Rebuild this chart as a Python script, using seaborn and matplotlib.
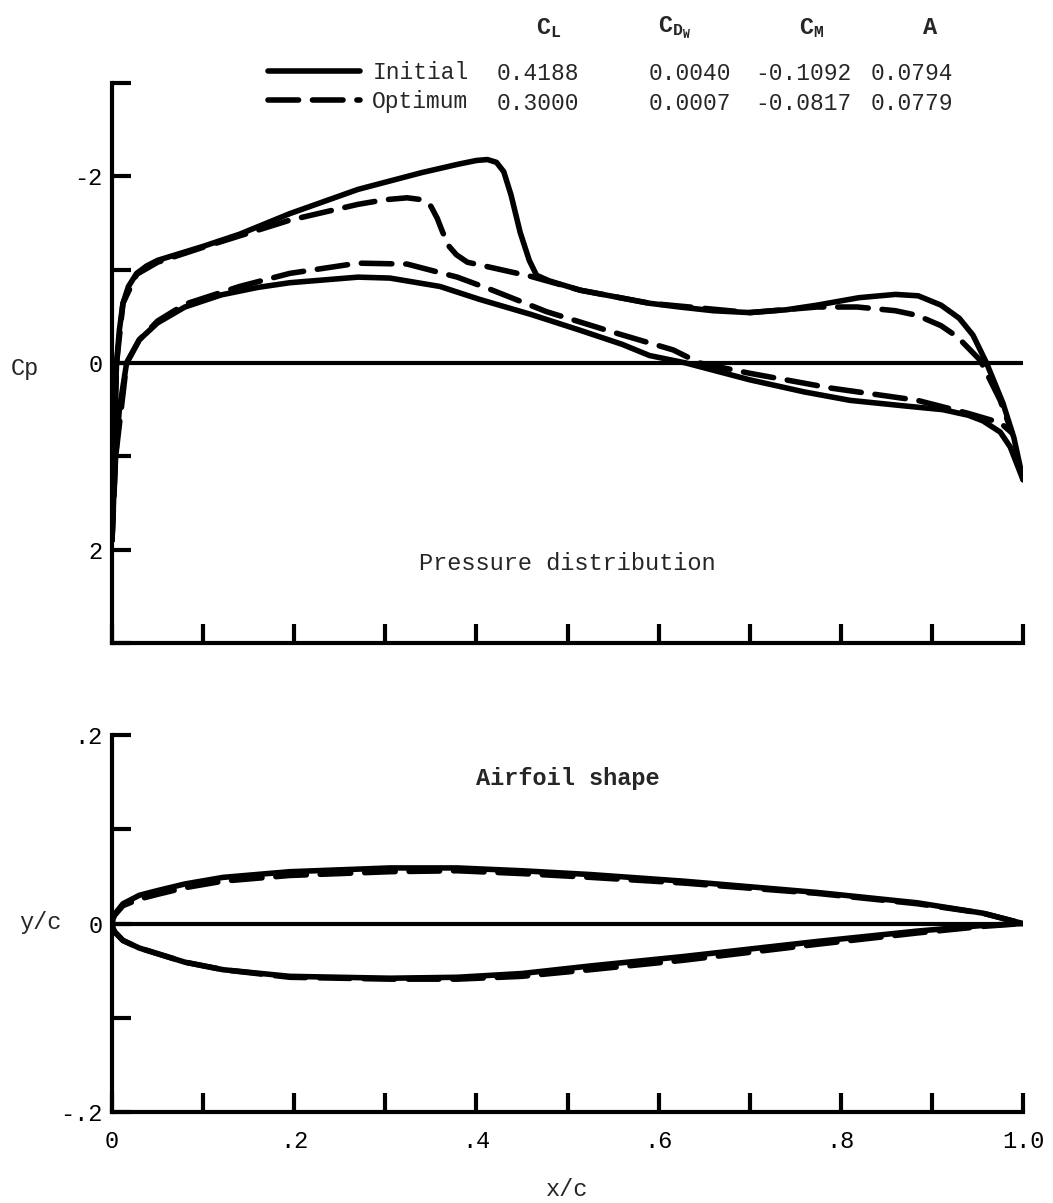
import numpy as np
import pandas as pd
import matplotlib
matplotlib.use("Agg")
import matplotlib.pyplot as plt
import seaborn as sns

# pressure distribution (x/c, Cp)
init_up_x = [0.0, 0.001, 0.003, 0.005, 0.008, 0.012, 0.018, 0.027, 0.038, 0.05, 0.07, 0.10, 0.14,
             0.195, 0.27, 0.34, 0.38, 0.40, 0.412, 0.422, 0.43, 0.438, 0.448, 0.458, 0.466, 0.48,
             0.514, 0.59, 0.623, 0.66, 0.70, 0.74, 0.774, 0.82, 0.86, 0.885, 0.91, 0.93, 0.945,
             0.96, 0.978, 0.99, 1.0]
init_up_cp = [1.9, 1.3, 0.5, 0.0, -0.35, -0.64, -0.82, -0.96, -1.04, -1.10, -1.16, -1.25, -1.38,
              -1.60, -1.86, -2.04, -2.13, -2.17, -2.18, -2.15, -2.05, -1.80, -1.40, -1.10, -0.94, -0.88,
              -0.78, -0.64, -0.60, -0.56, -0.54, -0.57, -0.62, -0.70, -0.735, -0.72, -0.62, -0.48, -0.30,
              0.0, 0.43, 0.80, 1.25]
init_lo_x = [0.0, 0.002, 0.004, 0.008, 0.016, 0.03, 0.05, 0.08, 0.12, 0.16, 0.195, 0.27, 0.305,
             0.36, 0.404, 0.46, 0.514, 0.56, 0.59, 0.63, 0.70, 0.76, 0.81, 0.87, 0.912, 0.94,
             0.956, 0.975, 0.986, 1.0]
init_lo_cp = [1.9, 1.4, 1.0, 0.5, 0.0, -0.25, -0.43, -0.60, -0.73, -0.81, -0.86, -0.92, -0.91,
              -0.82, -0.68, -0.52, -0.35, -0.20, -0.08, 0.0, 0.18, 0.31, 0.40, 0.46, 0.50, 0.56,
              0.62, 0.74, 0.90, 1.25]
opt_up_x = [0.0, 0.005, 0.012, 0.027, 0.05, 0.10, 0.195, 0.27, 0.30, 0.324, 0.34, 0.35, 0.357,
            0.363, 0.37, 0.378, 0.39, 0.404, 0.459, 0.514, 0.59, 0.70, 0.774, 0.818, 0.86, 0.884,
            0.91, 0.928, 0.953, 0.975, 0.988]
opt_up_cp = [1.9, 0.0, -0.64, -0.95, -1.08, -1.24, -1.53, -1.70, -1.75, -1.77, -1.75, -1.68, -1.55,
             -1.40, -1.25, -1.16, -1.08, -1.05, -0.93, -0.78, -0.64, -0.54, -0.60, -0.60, -0.56, -0.51,
             -0.40, -0.28, -0.03, 0.40, 0.75]
opt_lo_x = [0.0, 0.004, 0.016, 0.03, 0.05, 0.08, 0.14, 0.195, 0.27, 0.324, 0.379, 0.415, 0.477,
            0.55, 0.616, 0.645, 0.70, 0.79, 0.884, 0.94, 0.975, 0.988]
opt_lo_cp = [1.9, 1.0, 0.0, -0.25, -0.45, -0.63, -0.82, -0.96, -1.07, -1.06, -0.92, -0.79, -0.55,
             -0.33, -0.14, 0.0, 0.11, 0.27, 0.40, 0.54, 0.64, 0.75]

# airfoil shape (x/c, y/c)
shp_x = [0.0, 0.001, 0.003, 0.012, 0.03, 0.05, 0.08, 0.122, 0.195, 0.305, 0.379, 0.45, 0.525,
         0.627, 0.774, 0.884, 0.956, 1.0]
init_up_y = [0.0, 0.006, 0.010, 0.021, 0.030, 0.035, 0.042, 0.049, 0.055, 0.059, 0.059, 0.056,
             0.052, 0.045, 0.033, 0.022, 0.011, 0.0]
init_lo_y = [0.0, -0.005, -0.009, -0.018, -0.026, -0.032, -0.041, -0.049, -0.056, -0.058, -0.057,
             -0.053, -0.045, -0.035, -0.019, -0.008, -0.002, 0.0]
opt_up_y = [0.0, 0.005, 0.009, 0.019, 0.026, 0.031, 0.038, 0.045, 0.051, 0.055, 0.056, 0.053,
            0.049, 0.043, 0.032, 0.021, 0.011, 0.0]
opt_lo_y = [0.0, -0.005, -0.009, -0.018, -0.026, -0.032, -0.041, -0.049, -0.057, -0.059, -0.059,
            -0.056, -0.049, -0.039, -0.022, -0.010, -0.003, 0.0]

cases = ["Initial", "Optimum"]
coef_names = [r"$\mathrm{C_L}$", r"$\mathrm{C_{D_W}}$", r"$\mathrm{C_M}$", "A"]
coef_vals = [["0.4188", "0.0040", "-0.1092", "0.0794"],
             ["0.3000", "0.0007", "-0.0817", "0.0779"]]

sns.set_style("white")
plt.rcParams["font.family"] = ["Liberation Mono", "DejaVu Sans Mono"]
plt.rcParams["mathtext.fontset"] = "custom"
plt.rcParams["mathtext.rm"] = "Liberation Mono:bold"
plt.rcParams["mathtext.it"] = "Liberation Mono:bold"

LW = 4
DASH = (0, (5.5, 2.5))
FS_LEG = 16.5

fig = plt.figure(figsize=(10.53, 12.03), dpi=100)
ax1 = fig.add_axes([0.1064, 0.4655, 0.8651, 0.4655])
ax2 = fig.add_axes([0.1064, 0.0756, 0.8651, 0.3134])

# pressure distribution
sns.lineplot(x=init_up_x, y=init_up_cp, ax=ax1, color="black", lw=LW, sort=False, estimator=None)
sns.lineplot(x=init_lo_x, y=init_lo_cp, ax=ax1, color="black", lw=LW, sort=False, estimator=None)
sns.lineplot(x=opt_up_x, y=opt_up_cp, ax=ax1, color="black", lw=LW, sort=False, estimator=None,
             linestyle=DASH)
sns.lineplot(x=opt_lo_x, y=opt_lo_cp, ax=ax1, color="black", lw=LW, sort=False, estimator=None,
             linestyle=DASH)

# airfoil
for ys, ls in [(init_up_y, "-"), (init_lo_y, "-"), (opt_up_y, DASH), (opt_lo_y, DASH)]:
    sns.lineplot(x=shp_x, y=ys, ax=ax2, color="black", lw=LW, sort=False, estimator=None, linestyle=ls)

for ax in (ax1, ax2):
    ax.axhline(0, color="black", lw=3)
    ax.set_xlim(0, 1)
    sns.despine(ax=ax)
    for s in ("left", "bottom"):
        ax.spines[s].set_linewidth(3)
        ax.spines[s].set_color("black")
    ax.set_xticks(np.round(np.arange(0, 1.01, 0.1), 1))
    ax.tick_params(bottom=True, left=True, direction="in", length=14, width=3, color="black",
                   labelsize=17, labelcolor="black")
    ax.tick_params(axis="y", pad=7)
    ax.tick_params(axis="x", pad=13)
    for line in ax.lines:
        line.set_solid_capstyle("round")
        line.set_dash_capstyle("round")
        line.set_solid_joinstyle("round")

ax1.set_ylim(3, -3)
ax1.set_yticks([-3, -2, -1, 0, 1, 2, 3])
ax1.set_yticklabels(["", "-2", "", "0", "", "2", ""])
ax1.set_xticklabels([])
ax1.text(0.5, 2.15, "Pressure distribution", ha="center", va="center", fontsize=17)

ax2.set_ylim(-0.2, 0.2)
ax2.set_yticks([-0.2, -0.1, 0, 0.1, 0.2])
ax2.set_yticklabels(["-.2", "", "0", "", ".2"])
ax2.set_xticklabels(["0", "", ".2", "", ".4", "", ".6", "", ".8", "", "1.0"])
ax2.text(0.5, 0.154, "Airfoil shape", ha="center", va="center", fontsize=17, fontweight="bold")

fig.text(25 / 1053, 1 - 368 / 1203, "Cp", ha="center", va="center", fontsize=17)
fig.text(40 / 1053, 1 - 922 / 1203, "y/c", ha="center", va="center", fontsize=17)
fig.text(567 / 1053, 1 - 1190 / 1203, "x/c", ha="center", va="center", fontsize=17)

# legend table at the top
h = ax1.lines
leg = ax1.legend([h[0], h[2]], cases, loc="center left", frameon=False, fontsize=FS_LEG,
                 bbox_to_anchor=(268 / 1053, 1 - 87 / 1203), bbox_transform=fig.transFigure,
                 handlelength=4.0, handletextpad=0.55, labelspacing=0.3, borderpad=0,
                 borderaxespad=0)
col_x = [538, 690, 803, 912]
head_x = [549, 675, 812, 930]
for cx, name in zip(head_x, coef_names):
    fig.text(cx / 1053, 1 - 28 / 1203, name, ha="center", va="center", fontsize=17,
             fontweight="bold")
for row, yy in zip(coef_vals, [73, 104]):
    for cx, v in zip(col_x, row):
        fig.text(cx / 1053, 1 - yy / 1203, v, ha="center", va="center", fontsize=FS_LEG)

fig.savefig("out.png", dpi=100)
